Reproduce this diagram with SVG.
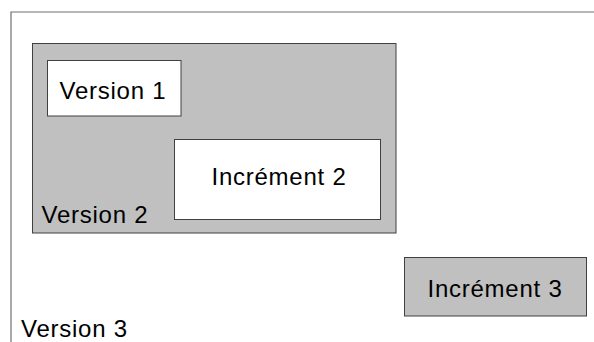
<svg xmlns="http://www.w3.org/2000/svg" width="594" height="342" viewBox="0 0 594 342">
<style>
.box{stroke:#404040;stroke-width:1}
.gray{fill:#c0c0c0}
.white{fill:#ffffff}
.frame{stroke:#707070;stroke-width:1.2;fill:none}
text{font-family:"Liberation Sans",Arial,sans-serif;font-size:24px;fill:#000;letter-spacing:0.75px}
</style>
<rect width="594" height="342" fill="#ffffff"/>
<g id="version3">
<path class="frame" d="M11,342 V12 H594"/>
<text x="21" y="336.5">Version 3</text>
</g>
<g id="version2">
<rect class="box gray" x="32.5" y="43.5" width="363.5" height="189.5"/>
<text x="41.5" y="222.5">Version 2</text>
</g>
<g id="version1">
<rect class="box white" x="47.5" y="60.5" width="133.5" height="55.5"/>
<text x="59.5" y="99">Version 1</text>
</g>
<g id="increment2">
<rect class="box white" x="174.5" y="139.5" width="206" height="80"/>
<text x="211.5" y="185">Incrément 2</text>
</g>
<g id="increment3">
<rect class="box gray" x="404.5" y="257.5" width="182" height="58.5"/>
<text x="427.5" y="296.5">Incrément 3</text>
</g>
<g id="connectors"></g>
</svg>
